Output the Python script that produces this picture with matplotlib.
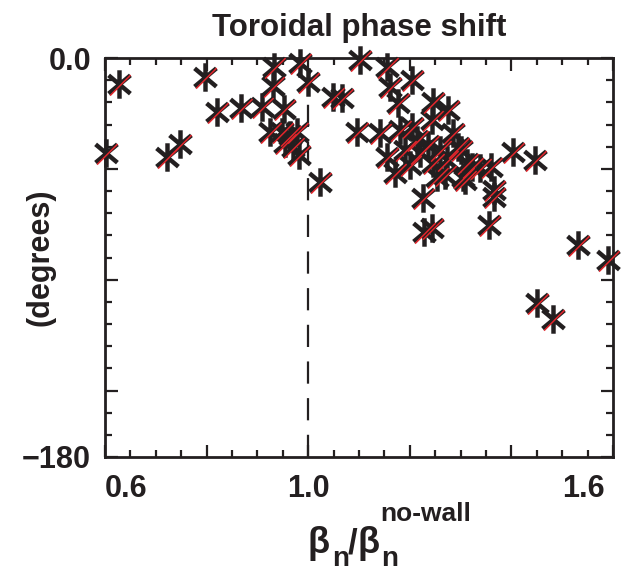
import numpy as np
import matplotlib
matplotlib.use('Agg')
import matplotlib.pyplot as plt
from matplotlib.path import Path
from matplotlib.ticker import MultipleLocator, FixedLocator
import matplotlib.transforms as mtransforms

# beta_N / beta_N(no-wall) and toroidal phase shift (degrees)
beta_ratio = [0.602, 0.628, 0.722, 0.748, 0.797, 0.821, 0.868, 0.909, 0.953, 0.933,
              0.984, 1.000, 0.931, 0.925, 0.949, 0.965, 0.978, 0.970, 0.982, 0.955,
              1.024, 1.049, 1.067, 1.102, 1.156, 1.205, 1.162, 1.177, 1.246, 1.276,
              1.097, 1.142, 1.181, 1.205, 1.244, 1.286, 1.156, 1.171, 1.215, 1.221,
              1.246, 1.260, 1.294, 1.254, 1.305, 1.313, 1.225, 1.227, 1.244, 1.404,
              1.447, 1.359, 1.365, 1.365, 1.309, 1.355, 1.532, 1.591, 1.300, 1.323,
              1.274, 1.451, 1.481, 1.191, 1.236, 1.270, 1.201, 1.339]
phase_shift = [-42.9, -11.7, -44.7, -38.8, -8.6, -24.4, -22.6, -22.1, -23.0, -4.1,
               -2.3, -10.8, -12.6, -33.4, -33.4, -34.7, -33.4, -40.1, -43.8, -38.3,
               -55.9, -17.6, -18.0, -0.9, -4.1, -9.9, -13.1, -20.3, -19.8, -23.5,
               -33.4, -33.8, -32.5, -31.1, -28.0, -33.8, -44.7, -51.9, -37.0, -42.9,
               -47.4, -41.5, -40.1, -53.7, -53.7, -47.4, -63.2, -78.5, -76.7, -42.4,
               -46.0, -49.2, -59.5, -62.7, -55.0, -75.3, -84.3, -91.1, -41.5, -49.2,
               -46.0, -110.5, -117.7, -41.5, -39.2, -52.8, -48.3, -49.6]

x_ticks = [0.6, 0.8, 1.0, 1.2, 1.4, 1.6]
x_ticklabels = ['0.6', '', '1.0', '', '', '1.6']
y_ticks = [-180, -150, -100, -50, 0]
y_ticklabels = ['\u2212180', '', '', '', '0.0']

fam = ['Liberation Sans Narrow', 'Liberation Sans', 'DejaVu Sans']
plt.rcParams['font.family'] = fam
plt.rcParams['font.weight'] = 'bold'

ink = '#231f20'

W, H = 625, 572
fig = plt.figure(figsize=(W / 100, H / 100), dpi=100)
ax = fig.add_axes([105 / W, 1 - 457 / H, 508 / W, 399 / H])

# asterisk: vertical bar plus two diagonals
c, s = np.cos(np.radians(40)), np.sin(np.radians(40))
star = Path([(0, -1), (0, 1), (-c, -s), (c, s), (-c, s), (c, -s)],
            [Path.MOVETO, Path.LINETO, Path.MOVETO, Path.LINETO, Path.MOVETO, Path.LINETO])
r, d = 0.72, 0.06
slash = Path([(-r + d, -r - d), (r + d, r - d)], [Path.MOVETO, Path.LINETO])
ms = 20.5
ms_red = ms * (r + d)

ax.plot(beta_ratio, phase_shift, linestyle='none', marker=star, markersize=ms,
        markeredgewidth=3.2, color=ink, clip_on=False, zorder=3)
ax.plot(beta_ratio, phase_shift, linestyle='none', marker=slash, markersize=ms_red,
        markeredgewidth=1.1, color='#e3262c', clip_on=False, zorder=4)

ax.axvline(1.0, color=ink, linestyle=(0, (10, 6.5)), linewidth=1.6, zorder=2)

ax.set_xlim(0.6, 1.6)
ax.set_ylim(-180, 0)
ax.xaxis.set_major_locator(FixedLocator(x_ticks))
ax.xaxis.set_minor_locator(MultipleLocator(0.05))
ax.yaxis.set_major_locator(FixedLocator(y_ticks))
ax.yaxis.set_minor_locator(MultipleLocator(10))
ax.set_xticklabels(x_ticklabels)
ax.set_yticklabels(y_ticklabels)

for sp in ax.spines.values():
    sp.set_linewidth(2.0)
    sp.set_color(ink)
ax.tick_params(which='both', direction='in', top=True, right=True, color=ink,
               width=1.6, labelcolor=ink)
ax.tick_params(which='major', length=9, labelsize=22)
ax.tick_params(which='minor', length=5)
ax.tick_params(axis='x', which='major', pad=12)
ax.tick_params(axis='y', which='major', pad=10)

labels = ax.get_xticklabels()
labels[0].set_horizontalalignment('left')
labels[-1].set_horizontalalignment('right')
labels[-1].set_transform(labels[-1].get_transform() +
                         mtransforms.ScaledTranslation(-8 / 100, 0, fig.dpi_scale_trans))

ax.set_title('Toroidal phase shift', fontsize=22.5, fontweight='bold', color=ink, pad=16)
ax.set_ylabel('(degrees)', fontsize=22, fontweight='bold', color=ink)
ax.yaxis.set_label_coords(-0.098, 0.5)

# x label built from pieces: beta_n / beta_n^(no-wall)
def put(px, py, txt, size):
    fig.text(px / W, 1 - py / H, txt, fontsize=size, fontweight='bold', color=ink,
             family=['Liberation Sans', 'DejaVu Sans'], ha='left', va='baseline')

put(308, 553, '\u03b2', 26)
put(332, 566, 'n', 20)
put(348, 553, '/', 25)
put(357, 553, '\u03b2', 26)
put(381, 566, 'n', 20)
put(380, 521, 'no-wall', 19)

fig.savefig('out.png', dpi=100)
